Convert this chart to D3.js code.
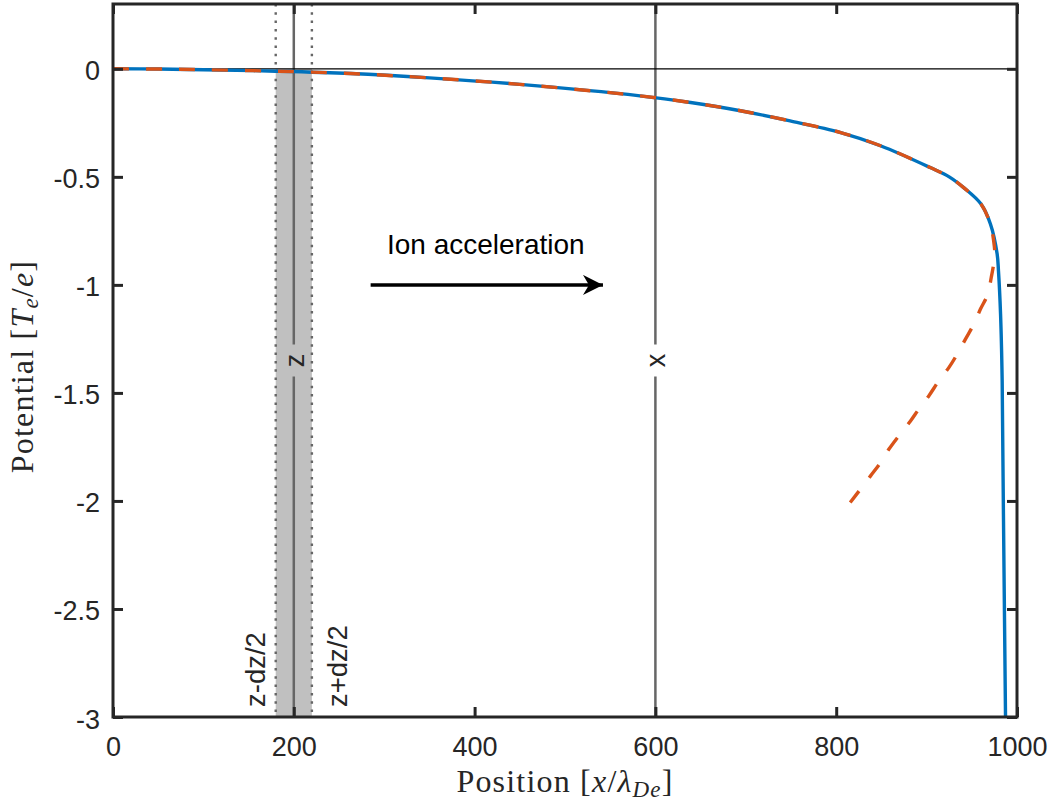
<!DOCTYPE html>
<html>
<head>
<meta charset="utf-8">
<style>
    body { margin: 0; background: #fff; }
    svg { font-family: "Liberation Sans", Arial, sans-serif; }
    .tick text { font-size: 27px; fill: #262626; }
    .math { font-family: "Liberation Serif", "Times New Roman", serif; fill: #262626; }
</style>
</head>
<body>
<script src="https://cdn.jsdelivr.net/npm/d3@7"></script>
<script>
// tick values
var xTicks = [0, 200, 400, 600, 800, 1000];
var yTicks = [-3, -2.5, -2, -1.5, -1, -0.5, 0];

// numerical potential (blue)
var fullX = [0, 50, 100, 180, 263, 350, 450, 583, 639, 694, 749, 805, 849, 904, 925, 941, 960, 970.6, 978, 979.5, 981.8, 983.6, 985, 987.3];
var fullPhi = [0, -0.001, -0.004, -0.011, -0.022, -0.042, -0.072, -0.125, -0.156, -0.194, -0.241, -0.295, -0.356, -0.457, -0.500, -0.550, -0.625, -0.718, -0.856, -0.935, -1.134, -1.444, -2.06, -3.0];

// approximation (orange dashed)
var approxX = [0, 50, 100, 180, 263, 350, 450, 583, 639, 694, 749, 805, 849, 904, 925, 941, 960, 970.6, 974.3, 975.4, 974.3, 971.5, 967.7, 959.6, 952.2, 943, 933.8, 924.6, 913.5, 902.4, 891.4, 882.2, 869.2, 858.2, 849, 838, 826.8, 815.5];
var approxPhi = [0, -0.001, -0.004, -0.011, -0.022, -0.042, -0.072, -0.125, -0.156, -0.194, -0.241, -0.295, -0.356, -0.457, -0.500, -0.550, -0.625, -0.72, -0.80, -0.855, -0.90, -0.966, -1.043, -1.112, -1.182, -1.251, -1.321, -1.383, -1.444, -1.514, -1.575, -1.630, -1.699, -1.761, -1.823, -1.884, -1.946, -2.007];

// vertical markers
var bandX = [180, 220];
var bandPhi = [0, -3];
var markerX = [200, 600];
var markerLabels = ["z", "x"];
var markerLabelPhi = -1.35;
var edgeX = [180, 220];
var edgeLabels = ["z-dz/2", "z+dz/2"];

// arrow annotation
var arrowX = [285, 542];
var arrowPhi = -1.0;
var arrowText = "Ion acceleration";
var arrowTextPhi = -0.855;

var margin = {top: 4, right: 38, bottom: 86, left: 113},
    width = 1055 - margin.left - margin.right,
    height = 803 - margin.top - margin.bottom;

var x = d3.scaleLinear().domain([0, 1000]).range([0, width]);
var y = d3.scaleLinear().domain([-3, 0.3]).range([height, 0]);

var svg = d3.select("body").append("svg")
    .attr("width", 1055)
    .attr("height", 803);

var defs = svg.append("defs");
defs.append("clipPath").attr("id", "clip")
    .append("rect").attr("width", width).attr("height", height);
defs.append("marker")
    .attr("id", "head")
    .attr("viewBox", "0 0 10 10")
    .attr("refX", 10).attr("refY", 5)
    .attr("markerUnits", "userSpaceOnUse")
    .attr("markerWidth", 24).attr("markerHeight", 20)
    .attr("orient", "auto")
    .append("path")
    .attr("d", "M0,0 L10,5 L0,10 L3,5 Z")
    .attr("fill", "#000");

var g = svg.append("g")
    .attr("transform", "translate(" + margin.left + "," + margin.top + ")");

var plot = g.append("g").attr("clip-path", "url(#clip)");

// shaded band
plot.append("rect")
    .attr("x", x(bandX[0]))
    .attr("y", y(bandPhi[0]))
    .attr("width", x(bandX[1]) - x(bandX[0]))
    .attr("height", y(bandPhi[1]) - y(bandPhi[0]))
    .attr("fill", "#c0c0c0");

// dotted band edges
plot.selectAll(".edge").data(edgeX).enter().append("line")
    .attr("class", "edge")
    .attr("x1", d => x(d)).attr("x2", d => x(d))
    .attr("y1", 0).attr("y2", height)
    .attr("stroke", "#666")
    .attr("stroke-width", 2.4)
    .attr("stroke-dasharray", "2.5 5.8");

// solid marker lines, broken where the label sits
var gap = 16;
markerX.forEach(function(d) {
    var ly = y(markerLabelPhi);
    plot.append("line")
        .attr("x1", x(d)).attr("x2", x(d))
        .attr("y1", 0).attr("y2", ly - gap)
        .attr("stroke", "#666").attr("stroke-width", 2.5);
    plot.append("line")
        .attr("x1", x(d)).attr("x2", x(d))
        .attr("y1", ly + gap).attr("y2", height)
        .attr("stroke", "#666").attr("stroke-width", 2.5);
});

// zero line
plot.append("line")
    .attr("x1", x(0)).attr("x2", x(1000))
    .attr("y1", y(0)).attr("y2", y(0))
    .attr("stroke", "#000").attr("stroke-width", 1.2);

var smoothLine = d3.line()
    .x(d => x(d[0])).y(d => y(d[1]))
    .curve(d3.curveCatmullRom.alpha(0.5));

plot.append("path")
    .datum(fullX.map((v, i) => [v, fullPhi[i]]))
    .attr("d", smoothLine)
    .attr("fill", "none")
    .attr("stroke", "#0072BD")
    .attr("stroke-width", 3.4);

plot.append("path")
    .datum(approxX.map((v, i) => [v, approxPhi[i]]))
    .attr("d", smoothLine)
    .attr("fill", "none")
    .attr("stroke", "#D95319")
    .attr("stroke-width", 3.4)
    .attr("stroke-dasharray", "16 17");

// axes, MATLAB box style with inward ticks
var tickLen = 10;
function fmt(d) { return String(d); }

var xAxis = g.append("g").attr("class", "axis")
    .attr("transform", "translate(0," + height + ")")
    .call(d3.axisBottom(x).tickValues(xTicks).tickSize(-tickLen).tickPadding(20).tickFormat(fmt));
var xTop = g.append("g")
    .call(d3.axisTop(x).tickValues(xTicks).tickSize(-tickLen).tickFormat(""));
var yAxis = g.append("g").attr("class", "axis")
    .call(d3.axisLeft(y).tickValues(yTicks).tickSize(-tickLen).tickPadding(13).tickFormat(fmt));
var yRight = g.append("g")
    .attr("transform", "translate(" + width + ",0)")
    .call(d3.axisRight(y).tickValues(yTicks).tickSize(-tickLen).tickFormat(""));

[xAxis, xTop, yAxis, yRight].forEach(function(a) {
    a.select(".domain").remove();
    a.selectAll(".tick line").attr("stroke", "#262626").attr("stroke-width", 3);
});
xAxis.selectAll(".tick text").attr("dy", null).attr("y", 39);
yAxis.selectAll(".tick text").attr("dy", null).attr("dominant-baseline", "auto").attr("y", 11);

g.append("rect")
    .attr("width", width).attr("height", height)
    .attr("fill", "none")
    .attr("stroke", "#262626")
    .attr("stroke-width", 3);

// marker labels
markerX.forEach(function(d, i) {
    g.append("text")
        .attr("transform", "translate(" + x(d) + "," + y(markerLabelPhi) + ") rotate(-90)")
        .attr("y", 10)
        .attr("text-anchor", "middle")
        .attr("font-size", 27)
        .attr("fill", "#262626")
        .text(markerLabels[i]);
});

// band edge labels
var edgeOffset = [-11, 35];
edgeX.forEach(function(d, i) {
    g.append("text")
        .attr("transform", "translate(" + (x(d) + edgeOffset[i]) + "," + (height - 10) + ") rotate(-90)")
        .attr("text-anchor", "start")
        .attr("font-size", 27.5)
        .attr("fill", "#262626")
        .text(edgeLabels[i]);
});

// arrow + text
g.append("line")
    .attr("x1", x(arrowX[0])).attr("x2", x(arrowX[1]))
    .attr("y1", y(arrowPhi)).attr("y2", y(arrowPhi))
    .attr("stroke", "#000").attr("stroke-width", 3.5)
    .attr("marker-end", "url(#head)");
g.append("text")
    .attr("x", (x(arrowX[0]) + x(arrowX[1])) / 2 - 1)
    .attr("y", y(arrowTextPhi))
    .attr("text-anchor", "middle")
    .attr("font-size", 28)
    .attr("fill", "#000")
    .text(arrowText);

// axis labels
var xl = svg.append("text").attr("class", "math")
    .attr("x", margin.left + width / 2)
    .attr("y", 792)
    .attr("text-anchor", "middle")
    .attr("letter-spacing", 1.2)
    .attr("font-size", 32);
xl.append("tspan").text("Position [");
xl.append("tspan").attr("font-style", "italic").text("x");
xl.append("tspan").text("/");
xl.append("tspan").attr("font-style", "italic").text("λ");
xl.append("tspan").attr("font-style", "italic").attr("font-size", 23).attr("baseline-shift", "-5").text("De");
xl.append("tspan").text("]");

var yl = svg.append("text").attr("class", "math")
    .attr("transform", "translate(33," + (margin.top + height / 2 + 6) + ") rotate(-90)")
    .attr("text-anchor", "middle")
    .attr("letter-spacing", 1.2)
    .attr("font-size", 32);
yl.append("tspan").text("Potential [");
yl.append("tspan").attr("font-style", "italic").text("T");
yl.append("tspan").attr("font-style", "italic").attr("font-size", 23).attr("baseline-shift", "-5").text("e");
yl.append("tspan").text("/");
yl.append("tspan").attr("font-style", "italic").text("e");
yl.append("tspan").text("]");
</script>
</body>
</html>
